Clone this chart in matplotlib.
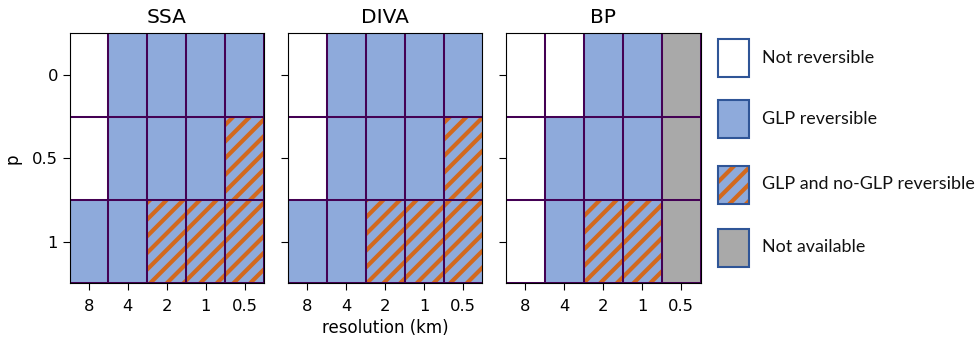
import matplotlib
matplotlib.use("Agg")
import matplotlib.pyplot as plt
from matplotlib.patches import Rectangle

# ---- data ----
resolutions = ["8", "4", "2", "1", "0.5"]
p_values = ["0", "0.5", "1"]
panel_titles = ["SSA", "DIVA", "BP"]
# 0 = Not reversible, 1 = GLP reversible, 2 = GLP and no-GLP reversible, 3 = Not available
ssa = [[0, 1, 1, 1, 1],
       [0, 1, 1, 1, 2],
       [1, 1, 2, 2, 2]]
diva = [[0, 1, 1, 1, 1],
        [0, 1, 1, 1, 2],
        [1, 1, 2, 2, 2]]
bp = [[0, 0, 1, 1, 3],
      [0, 1, 1, 1, 3],
      [0, 1, 2, 2, 3]]
categories = ["Not reversible", "GLP reversible", "GLP and no-GLP reversible", "Not available"]

BLUE = "#8eaadb"
ORANGE = "#d2691e"
GRAY = "#a9a9a9"
PURPLE = "#440154"
fills = {0: "white", 1: BLUE, 2: BLUE, 3: GRAY}

DPI = 100
plt.rcParams["hatch.linewidth"] = 3.0
plt.rcParams["font.family"] = ["DejaVu Sans"]
fig = plt.figure(figsize=(979 / DPI, 338 / DPI), dpi=DPI)

W, H = 979, 338
lefts = [69.5, 288, 506]
axw = 194.5
top, bottom = 33.3, 283.3
axes = []
for i, (grid, title) in enumerate(zip([ssa, diva, bp], panel_titles)):
    ax = fig.add_axes([lefts[i] / W, 1 - bottom / H, axw / W, (bottom - top) / H])
    axes.append(ax)
    for r, row in enumerate(grid):
        for c, cat in enumerate(row):
            if cat == 2:
                ax.bar(c, 1, bottom=r - 0.5, width=1, facecolor=BLUE,
                       edgecolor=ORANGE, hatch="//", linewidth=0, zorder=1)
            else:
                ax.bar(c, 1, bottom=r - 0.5, width=1, facecolor=fills[cat],
                       edgecolor="none", linewidth=0, zorder=1)
            ax.bar(c, 1, bottom=r - 0.5, width=1, fill=False,
                   edgecolor=PURPLE, linewidth=1.45, zorder=2)
    ax.set_xlim(-0.5, 4.5)
    ax.set_ylim(2.5, -0.5)
    ax.set_xticks(range(len(resolutions)))
    ax.set_xticklabels(resolutions)
    ax.set_yticks(range(len(p_values)))
    if i == 0:
        ax.set_yticklabels(p_values)
        ax.set_ylabel("p", fontsize=12, labelpad=7.5)
    else:
        ax.set_yticklabels([])
    if i == 1:
        ax.set_xlabel("resolution (km)", fontsize=12, labelpad=4)
    ax.set_title(title, fontsize=14.5, pad=7.5)
    ax.tick_params(axis="x", labelsize=11.8, length=4.7, pad=6.5)
    ax.tick_params(axis="y", labelsize=11.8, length=4.7, pad=3.5)
    for s in ax.spines.values():
        s.set_zorder(3)

# ---- legend (figure-level) ----
box_x, box_w, box_h = 718.5, 31, 38
box_tops = [39, 100.5, 165.5, 228.5]
for k, (label, yt) in enumerate(zip(categories, box_tops)):
    fc = {0: "white", 1: BLUE, 2: BLUE, 3: GRAY}[k]
    if k == 2:
        fig.patches.append(Rectangle((box_x / W, 1 - (yt + box_h) / H), box_w / W, box_h / H,
                                     transform=fig.transFigure, facecolor=BLUE,
                                     edgecolor=ORANGE, hatch="//", linewidth=0))
    fig.patches.append(Rectangle((box_x / W, 1 - (yt + box_h) / H), box_w / W, box_h / H,
                                 transform=fig.transFigure, facecolor=fc if k != 2 else "none",
                                 edgecolor="#2f5597", linewidth=1.5))
    fig.text(762 / W, 1 - (yt + box_h / 2) / H, label, fontsize=12.9, family=["Lato", "DejaVu Sans"],
             va="center", ha="left", color="#111111")

fig.savefig("out.png", dpi=DPI)
